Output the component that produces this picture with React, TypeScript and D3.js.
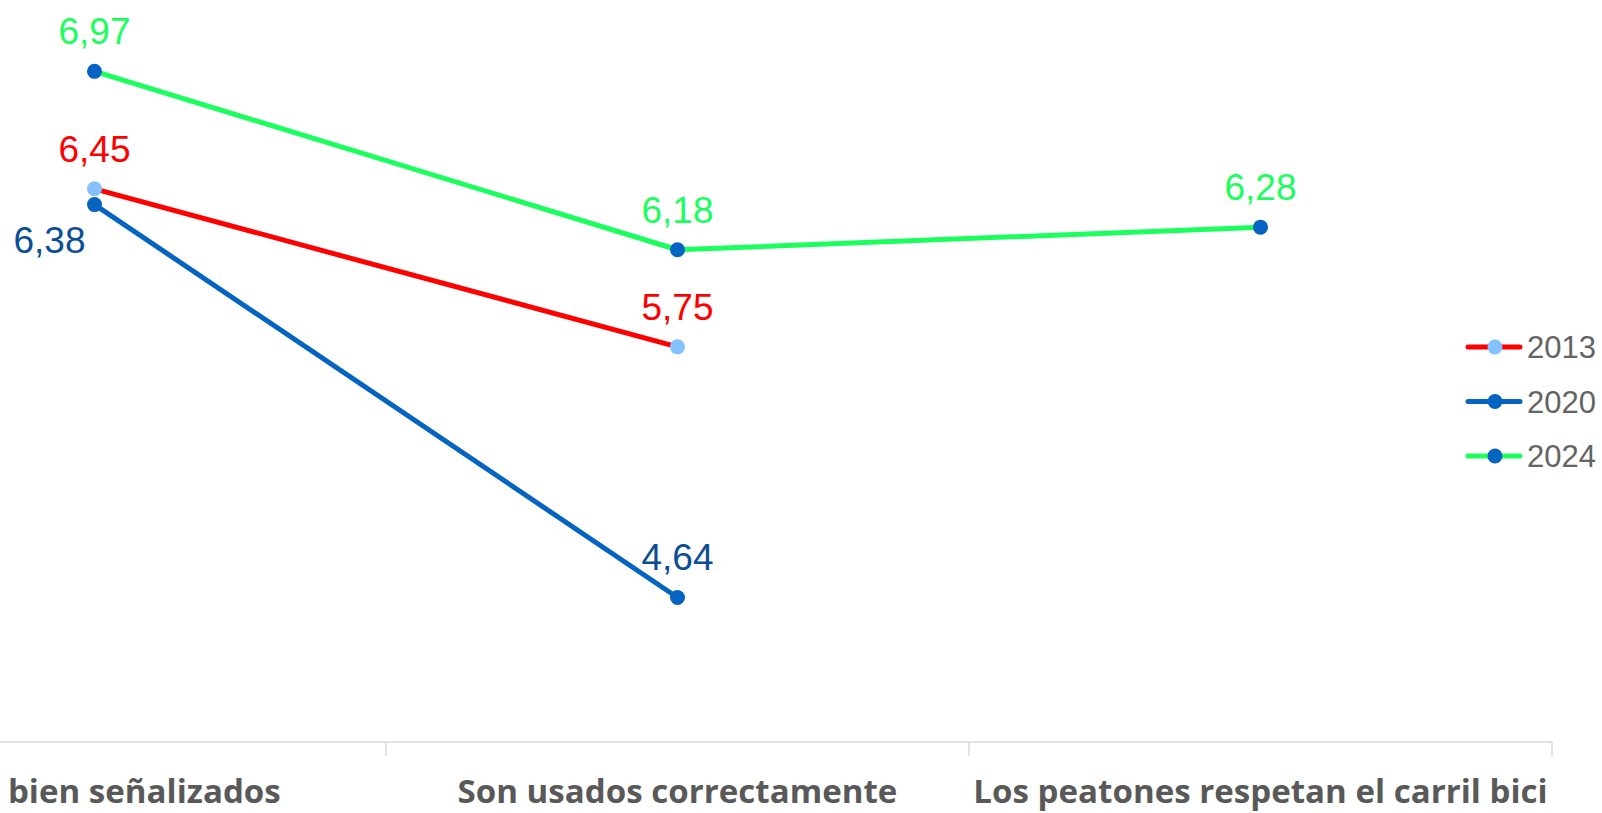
import React, { useEffect, useRef } from 'react'
import * as d3 from 'd3'

const categories = ['Están bien señalizados', 'Son usados correctamente', 'Los peatones respetan el carril bici']
const series = ['2013', '2020', '2024']
const values2013: (number | null)[] = [6.45, 5.75, null]
const values2020: (number | null)[] = [6.38, 4.64, null]
const values2024: (number | null)[] = [6.97, 6.18, 6.28]

const width = 1602
const height = 813

const styles = [
  { line: '#ff0000', dot: '#85c1ff', label: '#ff0000', labelPos: 'above' },
  { line: '#0563c1', dot: '#0563c1', label: '#0b4e94', labelPos: 'belowLeft' },
  { line: '#1aff5e', dot: '#0563c1', label: '#1aff5e', labelPos: 'above' },
]

export default function App() {
  const ref = useRef<SVGSVGElement>(null)

  useEffect(() => {
    const svg = d3.select(ref.current)
    svg.selectAll('*').remove()

    const x = d3.scaleBand()
      .domain(categories)
      .range([-197, 1552])

    const y = d3.scaleLinear()
      .domain([4, 7])
      .range([742, 64.6])

    const cx = (c: string) => (x(c) as number) + x.bandwidth() / 2

    // axis
    svg.append('line')
      .attr('x1', 0).attr('x2', 1552)
      .attr('y1', 742).attr('y2', 742)
      .attr('stroke', '#d9d9d9').attr('stroke-width', 1.5)

    svg.append('g')
      .selectAll('line')
      .data(categories)
      .join('line')
      .attr('x1', d => (x(d) as number) + x.bandwidth())
      .attr('x2', d => (x(d) as number) + x.bandwidth())
      .attr('y1', 742).attr('y2', 756)
      .attr('stroke', '#d9d9d9').attr('stroke-width', 1.5)

    // first label runs off the left edge, as in the original
    const labels = svg.append('g')
      .selectAll('text')
      .data(categories)
      .join('text')
      .attr('x', d => cx(d))
      .attr('y', 803)
      .attr('text-anchor', 'middle')
      .attr('fill', '#595959')
      .style('font-family', '"Open Sans", sans-serif')
      .style('font-weight', 'bold')
      .style('font-size', '31.5px')
      .text(d => d)

    // fit the width of the second label to the reference, scale all alike
    const node = labels.nodes()[1] as SVGTextElement
    const ratio = 440 / node.getComputedTextLength()
    labels.attr('transform', d => `translate(${cx(d)},0) scale(${ratio},1) translate(${-cx(d)},0)`)

    const allValues = [values2013, values2020, values2024]

    allValues.forEach((vals, i) => {
      const st = styles[i]
      const pts = categories.map((c, j) => ({ c, v: vals[j] })).filter(p => p.v != null) as { c: string, v: number }[]

      const line = d3.line<{ c: string, v: number }>()
        .x(d => cx(d.c))
        .y(d => y(d.v))

      svg.append('path')
        .datum(pts)
        .attr('d', line)
        .attr('fill', 'none')
        .attr('stroke', st.line)
        .attr('stroke-width', 5)
        .attr('stroke-linejoin', 'round')

      svg.append('g')
        .selectAll('circle')
        .data(pts)
        .join('circle')
        .attr('cx', d => cx(d.c))
        .attr('cy', d => y(d.v))
        .attr('r', 7.5)
        .attr('fill', st.dot)

      svg.append('g')
        .selectAll('text')
        .data(pts)
        .join('text')
        .attr('x', d => st.labelPos === 'belowLeft' && d.c === categories[0] ? cx(d.c) - 9 : cx(d.c))
        .attr('y', d => st.labelPos === 'belowLeft' && d.c === categories[0] ? y(d.v) + 48 : y(d.v) - 27)
        .attr('text-anchor', d => st.labelPos === 'belowLeft' && d.c === categories[0] ? 'end' : 'middle')
        .attr('fill', st.label)
        .style('font-family', '"Liberation Sans", Arial, sans-serif')
        .style('font-size', '37px')
        .text(d => d3.format('.2f')(d.v).replace('.', ','))
    })

    // legend
    const legend = svg.append('g')
      .selectAll('g')
      .data(series)
      .join('g')
      .attr('transform', (d, i) => `translate(1468,${347 + i * 54.5})`)

    legend.append('line')
      .attr('x1', 0).attr('x2', 52)
      .attr('stroke', (d, i) => styles[i].line)
      .attr('stroke-width', 5)
      .attr('stroke-linecap', 'round')

    legend.append('circle')
      .attr('cx', 27)
      .attr('r', 7.5)
      .attr('fill', (d, i) => styles[i].dot)

    legend.append('text')
      .attr('x', 59)
      .attr('y', 11)
      .attr('fill', '#646464')
      .style('font-family', '"Liberation Sans", Arial, sans-serif')
      .style('font-size', '31px')
      .text(d => d)
  }, [])

  return (
    <svg ref={ref} width={width} height={height}
      style={{ position: 'absolute', left: 0, top: 0, background: '#fff' }} />
  )
}
